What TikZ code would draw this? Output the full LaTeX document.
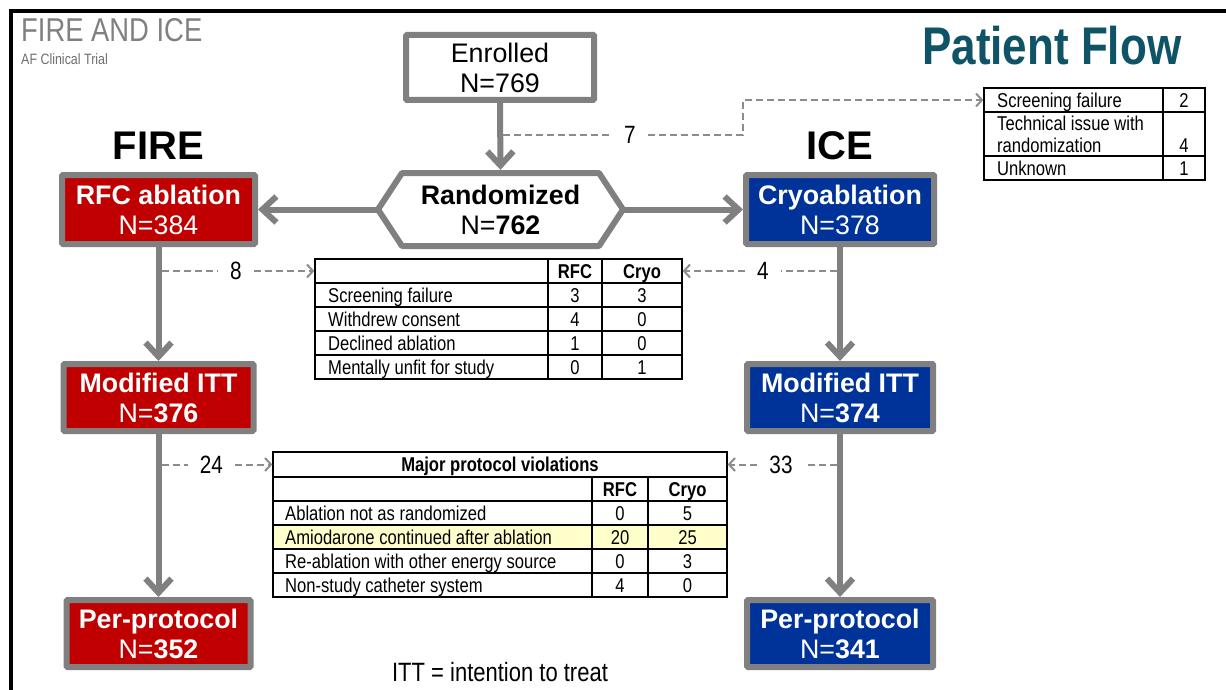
\documentclass[tikz,border=0pt]{standalone}
\usepackage{fontspec}
\setmainfont[FakeStretch=0.83]{Liberation Sans}
\newfontfamily\widefont{Liberation Sans}
\usetikzlibrary{arrows.meta}

\definecolor{boxgray}{RGB}{128,128,128}
\definecolor{dashgray}{RGB}{140,140,140}
\definecolor{firered}{RGB}{192,0,0}
\definecolor{iceblue}{RGB}{0,51,153}
\definecolor{titleteal}{RGB}{15,83,103}
\definecolor{titlegray}{RGB}{128,128,128}
\definecolor{hilite}{RGB}{255,255,204}

\begin{document}
\begin{tikzpicture}[x=1pt, y=-1pt,
  flowbox/.style={draw=boxgray, line width=6pt, rounded corners=1pt, minimum height=69pt,
    inner sep=0pt, align=center, font=\widefont\fontsize{26.8}{30}\selectfont},
  firebox/.style={flowbox, fill=firered, text=white},
  icebox/.style={flowbox, fill=iceblue, text=white},
  bigarrow/.style={draw=boxgray, line width=6pt, -{Straight Barb[length=14pt,width=26pt]}},
  dashline/.style={draw=dashgray, line width=2pt, dash pattern=on 7pt off 4pt},
  dasharrow/.style={dashline, -{Straight Barb[length=6pt,width=13pt]}},
  numlbl/.style={inner xsep=12pt, inner ysep=0pt, font=\fontsize{25}{25}\selectfont},
  tabrow/.style={draw=black, line width=1.3pt, inner sep=0pt},
  tabline/.style={draw=black, line width=1.3pt},
  cell/.style={inner sep=0pt, text height=14.3pt, text depth=0pt, font=\fontsize{20}{24}\selectfont},
  lcell/.style={cell, anchor=west},
  hcell/.style={cell, font=\fontsize{20}{24}\selectfont\bfseries},
]
\useasboundingbox (0,0) rectangle (1226,690);

% slide frame
\draw[line width=3.5pt] (11,690) -- (11,11) -- (1226,11);

% headings
\node[anchor=base west, inner sep=0pt, text=titlegray, font=\fontsize{33}{33}\selectfont] (ttl) at (21,42) {FIRE AND ICE};
\node[anchor=base west, inner sep=0pt, text=titlegray!85!black, font=\fontsize{15}{15}\selectfont] (sub) at (21,65) {AF Clinical Trial};
\node[anchor=base west, inner sep=0pt, text=titleteal, font=\fontsize{53}{53}\selectfont\bfseries] (pf) at (922,65) {Patient Flow};
\node[anchor=base, inner sep=0pt, font=\widefont\fontsize{40}{40}\selectfont\bfseries] (fire) at (158.5,160) {FIRE};
\node[anchor=base, inner sep=0pt, font=\widefont\fontsize{40}{40}\selectfont\bfseries] (ice) at (840,160) {ICE};
\node[anchor=base, inner sep=0pt, font=\fontsize{26.5}{26.5}\selectfont] (itt) at (500,681) {ITT = intention to treat};

% flow boxes
\node[flowbox, fill=white, minimum width=188pt, minimum height=65pt] (enr) at (500,67.5) {Enrolled\\N=769};
\node[inner sep=0pt, minimum width=245pt, minimum height=73pt, align=center,
      font=\widefont\fontsize{26.8}{30}\selectfont] (rand) at (500.5,209.5) {\textbf{Randomized}\\N=\textbf{762}};
\draw[boxgray, line width=6pt, line join=round] ([xshift=-122.5pt]rand.center) -- ++(24,-36.5) -- ++(197,0)
  -- ++(24,36.5) -- ++(-24,36.5) -- ++(-197,0) -- cycle;

\node[firebox, minimum width=193pt] (rfc) at (158.5,209.5) {\textbf{RFC ablation}\\N=384};
\node[icebox, minimum width=188pt] (cryo) at (840,209.5) {\textbf{Cryoablation}\\N=378};
\node[firebox, minimum width=190pt, minimum height=67pt] (mittL) at (158.5,397.5) {\textbf{Modified ITT}\\N=\textbf{376}};
\node[icebox, minimum width=186pt, minimum height=67pt] (mittR) at (840,397.5) {\textbf{Modified ITT}\\N=\textbf{374}};
\node[firebox, minimum width=184pt, minimum height=67pt] (ppL) at (158.5,633.5) {\textbf{Per-protocol}\\N=\textbf{352}};
\node[icebox, minimum width=186pt, minimum height=67pt] (ppR) at (840,633.5) {\textbf{Per-protocol}\\N=\textbf{341}};

% main flow arrows
\draw[bigarrow, shorten >=3pt] (enr.south) -- (rand.north);
\draw[bigarrow] (rand.west) -- (rfc.east);
\draw[bigarrow] (rand.east) -- (cryo.west);
\draw[bigarrow] (rfc) -- (mittL);
\draw[bigarrow] (mittL) -- (ppL);
\draw[bigarrow] (cryo) -- (mittR);
\draw[bigarrow] (mittR) -- (ppR);

% table: excluded before randomization
\node[tabrow, minimum width=221pt, minimum height=24pt] (t1a) at (1094.5,100) {};
\node[tabrow, minimum width=221pt, minimum height=44pt] (t1b) at (1094.5,134) {};
\node[tabrow, minimum width=221pt, minimum height=24pt] (t1c) at (1094.5,168) {};
\draw[tabline] (1163,88) -- (1163,180);
\node[lcell] (t1l1) at (997,100) {Screening failure};
\node[cell] (t1n1) at (1184,100) {2};
\node[lcell] (t1l2) at (997,123) {Technical issue with};
\node[lcell] (t1l3) at (997,145) {randomization};
\node[cell] (t1n2) at (1184,145) {4};
\node[lcell] (t1l4) at (997,168) {Unknown};
\node[cell] (t1n3) at (1184,168) {1};

% table: excluded after randomization
\node[tabrow, minimum width=367pt, minimum height=24pt] (t2h) at (498.5,271) {};
\foreach \i in {1,...,4}{
  \node[tabrow, minimum width=367pt, minimum height=24pt] (t2r\i) at (498.5,{271+24*\i}) {};
}
\draw[tabline] (548,259) -- (548,379);
\draw[tabline] (602,259) -- (602,379);
\node[hcell] (t2hr) at (575,271) {RFC};
\node[hcell] (t2hc) at (642,271) {Cryo};
\foreach \lab/\a/\b [count=\i] in {Screening failure/3/3, Withdrew consent/4/0,
    Declined ablation/1/0, Mentally unfit for study/0/1}{
  \node[lcell] (t2l\i) at (328,{271+24*\i}) {\lab};
  \node[cell] (t2a\i) at (575,{271+24*\i}) {\a};
  \node[cell] (t2b\i) at (642,{271+24*\i}) {\b};
}

% table: major protocol violations
\node[tabrow, minimum width=454pt, minimum height=25pt] (t3t) at (500,464.5) {};
\node[tabrow, minimum width=454pt, minimum height=24pt] (t3h) at (500,489) {};
\node[tabrow, minimum width=454pt, minimum height=24pt] (t3r1) at (500,513) {};
\node[tabrow, minimum width=454pt, minimum height=24pt, fill=hilite] (t3r2) at (500,537) {};
\node[tabrow, minimum width=454pt, minimum height=24pt] (t3r3) at (500,561) {};
\node[tabrow, minimum width=454pt, minimum height=24pt] (t3r4) at (500,585) {};
\draw[tabline] (592,477) -- (592,597);
\draw[tabline] (648,477) -- (648,597);
\node[hcell] (t3tt) at (500,464.5) {Major protocol violations};
\node[hcell] (t3hr) at (620,489) {RFC};
\node[hcell] (t3hc) at (687.5,489) {Cryo};
\foreach \lab/\a/\b [count=\i] in {Ablation not as randomized/0/5, Amiodarone continued after ablation/20/25,
    Re-ablation with other energy source/0/3, Non-study catheter system/4/0}{
  \node[lcell] (t3l\i) at (285,{489+24*\i}) {\lab};
  \node[cell] (t3a\i) at (620,{489+24*\i}) {\a};
  \node[cell] (t3b\i) at (687.5,{489+24*\i}) {\b};
}

% dropout connectors
\coordinate (c7) at (503,135);
\coordinate (k7) at (742.5,100);
\node[numlbl] (n7) at (630,135) {7};
\draw[dashline] (c7) -- (n7);
\draw[dasharrow] (n7) -| (k7) -- (t1a.west);

\coordinate (c8) at (161.5,271);
\node[numlbl] (n8) at (236,271) {8};
\draw[dashline] (c8) -- (n8);
\draw[dasharrow] (n8) -- (t2h.west);

\coordinate (c4) at (837,271);
\node[numlbl] (n4) at (763,271) {4};
\draw[dashline] (c4) -- (n4);
\draw[dasharrow] (n4) -- (t2h.east);

\coordinate (c24) at (161.5,464.5);
\node[numlbl] (n24) at (211.5,464.5) {24};
\draw[dashline] (c24) -- (n24);
\draw[dasharrow] (n24) -- (t3t.west);

\coordinate (c33) at (837,464.5);
\node[numlbl] (n33) at (781,464.5) {33};
\draw[dashline] (c33) -- (n33);
\draw[dasharrow] (n33) -- (t3t.east);
\end{tikzpicture}
\end{document}
